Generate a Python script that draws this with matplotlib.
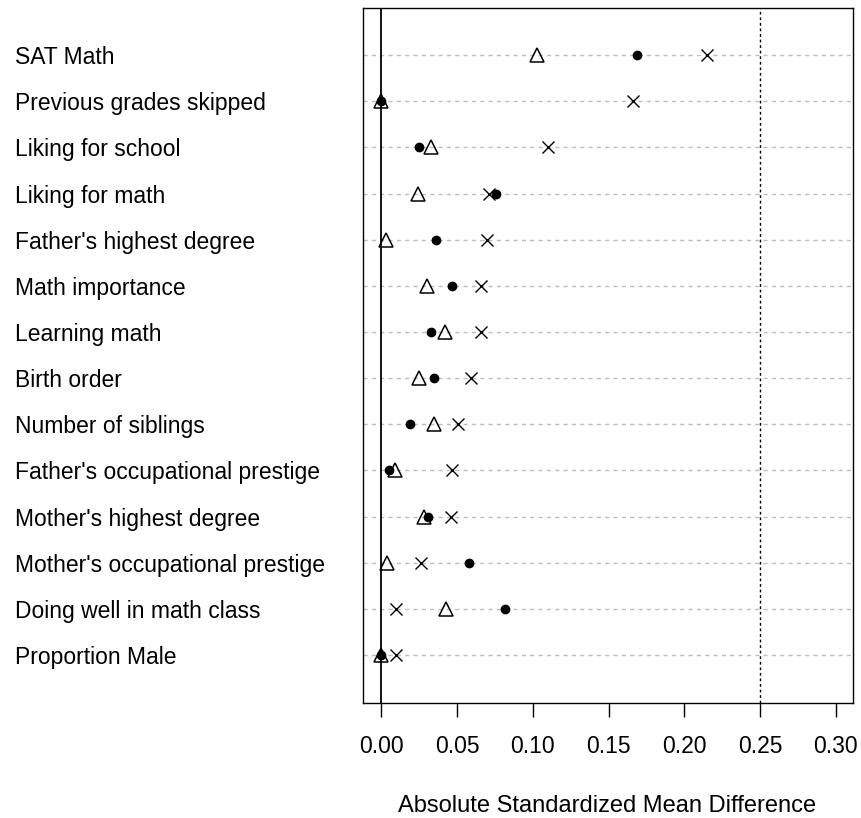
import numpy as np
import matplotlib
matplotlib.use("Agg")
import matplotlib.pyplot as plt
import matplotlib.transforms as mtransforms

plt.rcParams['font.family'] = ['Liberation Sans', 'DejaVu Sans']

covariates = [
    "SAT Math",
    "Previous grades skipped",
    "Liking for school",
    "Liking for math",
    "Father's highest degree",
    "Math importance",
    "Learning math",
    "Birth order",
    "Number of siblings",
    "Father's occupational prestige",
    "Mother's highest degree",
    "Mother's occupational prestige",
    "Doing well in math class",
    "Proportion Male",
]

# absolute standardized mean differences for each covariate
unadjusted = [0.215, 0.166, 0.110, 0.071, 0.070, 0.066, 0.066, 0.059, 0.051, 0.047, 0.046, 0.026, 0.010, 0.010]
weighted_a = [0.103, 0.000, 0.033, 0.024, 0.003, 0.030, 0.042, 0.025, 0.035, 0.009, 0.028, 0.004, 0.043, 0.000]
weighted_b = [0.169, 0.000, 0.025, 0.076, 0.036, 0.047, 0.033, 0.035, 0.019, 0.005, 0.031, 0.058, 0.082, 0.000]

xticks = [0.00, 0.05, 0.10, 0.15, 0.20, 0.25, 0.30]
threshold = 0.25

fig = plt.figure(figsize=(8.62, 8.18), dpi=100)
ax = fig.add_axes([363 / 862, 1 - 703 / 818, (853 - 363) / 862, (703 - 8) / 818])

ypos = np.arange(1, len(covariates) + 1)

for y in ypos:
    ax.axhline(y, color='#bebebe', lw=1.0, ls=(0, (3, 3)), zorder=1)
ax.axvline(0, color='black', lw=1.3, zorder=2)
ax.axvline(threshold, color='black', lw=1.0, ls=(0, (2, 2)), zorder=2)

ax.plot(weighted_a, ypos, ls='none', marker='^', ms=10.5, mfc='none', mec='black', mew=1.1, zorder=3)
ax.plot(weighted_b, ypos, ls='none', marker='o', ms=6, mfc='black', mec='black', zorder=3)
ax.plot(unadjusted, ypos, ls='none', marker='x', ms=9, mec='black', mew=1.0, zorder=3)

ax.set_xlim(-0.012, 0.3113)
ax.set_ylim(15.04, -0.02)

ax.set_xticks(xticks)
ax.set_xticklabels(["%.2f" % v for v in xticks], fontsize=16.5)
ax.tick_params(axis='x', length=10, width=1.0, pad=13, direction='out')
ax.set_yticks([])
for side in ax.spines.values():
    side.set_linewidth(1.0)

label_tf = mtransforms.blended_transform_factory(mtransforms.IdentityTransform(), ax.transData)
for y, name in zip(ypos, covariates):
    ax.text(15, y, name, transform=label_tf, ha='left', va='center_baseline', fontsize=16.5)

fig.text(607 / 862, 1 - 812 / 818, "Absolute Standardized Mean Difference",
         ha='center', va='baseline', fontsize=17)

fig.savefig("out.png", dpi=100)
